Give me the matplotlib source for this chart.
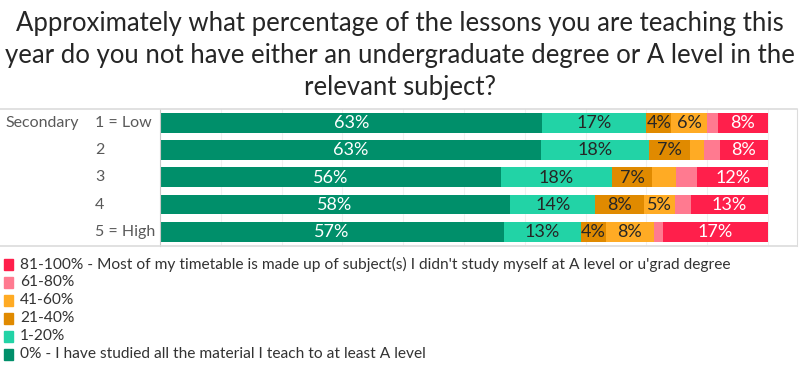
import matplotlib
matplotlib.use("Agg")
import matplotlib.pyplot as plt
from matplotlib.patches import Rectangle
from matplotlib.lines import Line2D
import numpy as np

plt.rcParams['font.family'] = ['Lato', 'DejaVu Sans']

title_lines = ["Approximately what percentage of the lessons you are teaching this",
               "year do you not have either an undergraduate degree or A level in the",
               "relevant subject?"]
group_label = "Secondary"
rows = ["1 = Low", "2", "3", "4", "5 = High"]
categories = ["0% - I have studied all the material I teach to at least A level",
              "1-20%", "21-40%", "41-60%", "61-80%",
              "81-100% - Most of my timetable is made up of subject(s) I didn't study myself at A level or u'grad degree"]
zero = [62.9, 62.6, 56.1, 57.6, 56.6]
p1_20 = [17.1, 17.9, 18.2, 14.0, 12.6]
p21_40 = [4.1, 6.6, 6.7, 8.0, 4.1]
p41_60 = [5.8, 2.3, 3.9, 5.1, 7.9]
p61_80 = [1.8, 2.7, 3.5, 2.6, 1.5]
p81_100 = [8.3, 7.9, 11.6, 12.7, 17.3]
series = [zero, p1_20, p21_40, p41_60, p61_80, p81_100]

colors = ["#008f6a", "#22d3a6", "#e08a00", "#ffab24", "#ff7a90", "#ff1f4b"]
text_colors = ["white", "#262626", "#262626", "#262626", "#262626", "white"]
label_min = 4.0

fig = plt.figure(figsize=(8.0, 3.71), dpi=100)
L, R, T, B = 160, 797, 109, 246
W, H = 800, 371
ax = fig.add_axes([L / W, 1 - B / H, (R - L) / W, (B - T) / H])

y = np.arange(len(rows))
left = np.zeros(len(rows))
for vals, c, tc in zip(series, colors, text_colors):
    vals = np.array(vals)
    ax.barh(y, vals, left=left, height=0.73, color=c, zorder=2, linewidth=0)
    for yi, (l, v) in enumerate(zip(left, vals)):
        if v >= label_min:
            ax.text(l + v / 2, yi + 0.02, f"{round(v):d}%", ha="center", va="center",
                    color=tc, fontsize=13, zorder=3)
    left += vals

xmax = 100 * (R - L) / (768 - L)
ax.set_xlim(0, xmax)
ax.set_ylim(len(rows) - 0.5 + 0.02, -0.5)
ax.set_xticks(np.arange(10, 101, 10))
ax.grid(axis="x", color="#f0f0f0", linewidth=0.8, zorder=0)
ax.tick_params(axis="both", length=0, labelbottom=False, labelleft=False)
ax.spines["right"].set_color("#dcdcdc")
ax.spines["left"].set_color("#c8c8c8")
ax.spines["top"].set_visible(False)
ax.spines["bottom"].set_visible(False)

# top/bottom frame lines spanning from left edge of figure
for yy in (T, B):
    fig.add_artist(Line2D([0, R / W], [1 - yy / H, 1 - yy / H], color="#dcdcdc",
                          linewidth=1.2, transform=fig.transFigure))

# row labels
for yi, r in enumerate(rows):
    ax.text(-65 / (R - L) * xmax, yi, r, ha="left", va="center",
            color="#595959", fontsize=11.5, clip_on=False)
ax.text(-155 / (R - L) * xmax, 0, group_label, ha="left", va="center",
        color="#595959", fontsize=11.5, clip_on=False)

# title
for i, line in enumerate(title_lines):
    fig.text(0.5, 1 - (31.5 + i * 31.6) / H, line, ha="center", va="baseline",
             fontsize=18.5, color="#262626")

# legend
for i, (cat, c) in enumerate(reversed(list(zip(categories, colors)))):
    yc = 264.5 + i * 18
    fig.add_artist(Rectangle((4 / W, 1 - (yc + 5.5) / H), 8.5 / W, 11 / H,
                             color=c, transform=fig.transFigure))
    fig.text(20 / W, 1 - yc / H, cat, ha="left", va="center", fontsize=11.2,
             color="#333333")

fig.savefig("out.png", dpi=100)
